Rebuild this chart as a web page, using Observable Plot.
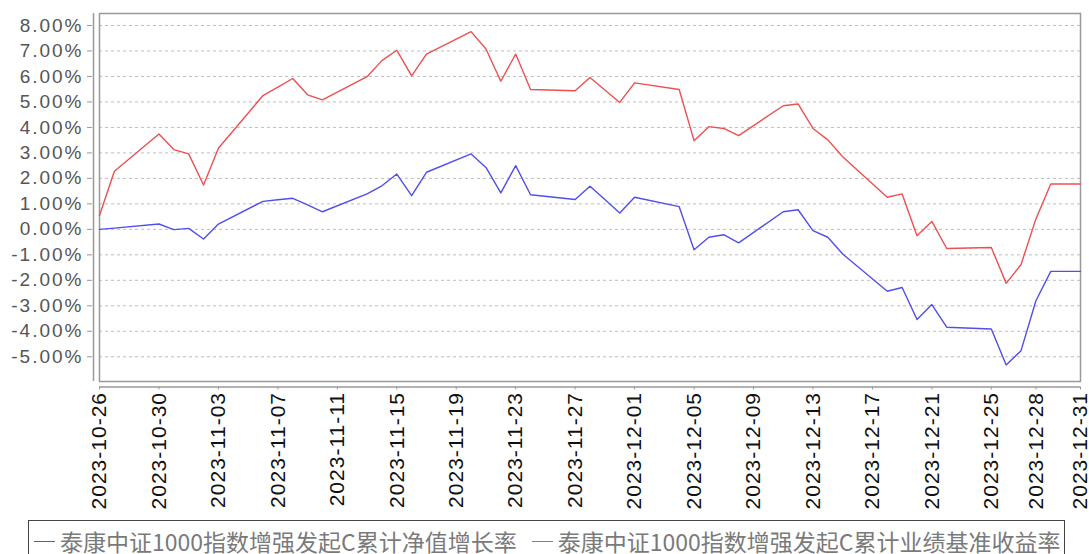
<!DOCTYPE html>
<html>
<head>
<meta charset="utf-8">
<script src="https://cdn.jsdelivr.net/npm/d3@7"></script>
<script src="https://cdn.jsdelivr.net/npm/@observablehq/plot@0.6"></script>
<style>
  html, body { margin: 0; padding: 0; background: #fff; }
  #wrap { position: relative; width: 1089px; height: 554px; overflow: hidden; }
  #chart svg { display: block; }
  g[aria-label="y-axis tick label"] text { letter-spacing: 2px; }
  g[aria-label="x-axis tick label"] text { letter-spacing: 1px; }
  #legend {
    position: absolute; left: 28px; top: 520px; width: 1037px; height: 40px;
    border: 1.5px solid #444; box-sizing: border-box;
    font-family: "Noto Sans CJK SC", sans-serif; font-size: 23px; color: #7a7a7a;
    display: flex; align-items: flex-start; padding-top: 8px; padding-left: 5px;
    white-space: nowrap;
  }
  .item { display: flex; align-items: center; line-height: 24px; margin-right: 15px; }
  .sw { display: inline-block; width: 21px; height: 0; border-top: 1.5px solid; margin-right: 5px; }
</style>
</head>
<body>
<div id="wrap">
  <div id="chart"></div>
  <div id="legend"></div>
</div>
<script>
const seriesNames = ["泰康中证1000指数增强发起C累计净值增长率", "泰康中证1000指数增强发起C累计业绩基准收益率"];
const seriesColors = ["#4f4fee", "#ee4f4f"];

const dates = ["2023-10-26","2023-10-27","2023-10-30","2023-10-31","2023-11-01","2023-11-02","2023-11-03",
  "2023-11-06","2023-11-07","2023-11-08","2023-11-09","2023-11-10","2023-11-13","2023-11-14","2023-11-15",
  "2023-11-16","2023-11-17","2023-11-20","2023-11-21","2023-11-22","2023-11-23","2023-11-24","2023-11-27",
  "2023-11-28","2023-11-29","2023-11-30","2023-12-01","2023-12-04","2023-12-05","2023-12-06","2023-12-07",
  "2023-12-08","2023-12-11","2023-12-12","2023-12-13","2023-12-14","2023-12-15","2023-12-18","2023-12-19",
  "2023-12-20","2023-12-21","2023-12-22","2023-12-25","2023-12-26","2023-12-27","2023-12-28","2023-12-29",
  "2023-12-31"];

const navGrowth = [0.00,0.05,0.21,-0.01,0.04,-0.38,0.21,
  1.10,1.16,1.22,0.96,0.69,1.39,1.71,2.17,
  1.32,2.24,2.96,2.43,1.43,2.50,1.36,1.17,
  1.69,1.17,0.64,1.26,0.89,-0.80,-0.31,-0.21,
  -0.53,0.69,0.77,-0.05,-0.31,-0.97,-2.43,-2.28,
  -3.54,-2.95,-3.84,-3.91,-5.32,-4.76,-2.80,-1.65,
  -1.65];

const benchmark = [0.54,2.28,3.74,3.13,2.96,1.74,3.18,
  5.25,5.58,5.92,5.28,5.08,5.99,6.62,7.03,
  6.02,6.88,7.76,7.08,5.81,6.88,5.49,5.44,
  5.96,5.47,4.98,5.75,5.49,3.48,4.03,3.96,
  3.68,4.85,4.92,3.96,3.51,2.85,1.26,1.39,
  -0.25,0.31,-0.75,-0.71,-2.12,-1.38,0.41,1.78,
  1.78];

const xTickLabels = ["2023-10-26","2023-10-30","2023-11-03","2023-11-07","2023-11-11","2023-11-15",
  "2023-11-19","2023-11-23","2023-11-27","2023-12-01","2023-12-05","2023-12-09","2023-12-13",
  "2023-12-17","2023-12-21","2023-12-25","2023-12-28","2023-12-31"];

const yTicks = [-5,-4,-3,-2,-1,0,1,2,3,4,5,6,7,8];

const parse = d3.utcParse("%Y-%m-%d");
const fmt = d3.utcFormat("%Y-%m-%d");
const xTicks = xTickLabels.map(parse);
const navData = dates.map((d, i) => ({date: parse(d), v: navGrowth[i]}));
const benchData = dates.map((d, i) => ({date: parse(d), v: benchmark[i]}));
const xStart = parse("2023-10-26"), xEnd = parse("2023-12-31");
const yDom = [-5.97, 8.47];

const chart = Plot.plot({
  width: 1089,
  height: 516,
  marginTop: 13,
  marginLeft: 99,
  marginRight: 9,
  marginBottom: 135,
  x: {type: "utc", domain: [xStart, xEnd]},
  y: {domain: yDom},
  style: {fontFamily: "'Liberation Sans', Arial, sans-serif", background: "#fff", overflow: "visible"},
  marks: [
    Plot.gridY(yTicks, {stroke: "#bdbdbd", strokeOpacity: 1, strokeDasharray: "3,3"}),
    Plot.frame({stroke: "#999", strokeWidth: 1.5}),
    Plot.ruleX([xStart], {dx: -6, stroke: "#999", strokeWidth: 1.5}),
    Plot.ruleY([yDom[0]], {dy: 5.5, stroke: "#999", strokeWidth: 1.5}),
    Plot.axisY(yTicks, {tickFormat: d => d.toFixed(2) + "%", dx: -7, tickSize: 5, tickPadding: 4,
      fontSize: 19, fill: "#555", stroke: "#999", label: null}),
    Plot.axisX(xTicks, {tickFormat: fmt, tickRotate: -90, dy: 5.5, tickSize: 3, tickPadding: 2,
      fontSize: 21, fill: "#111", stroke: "#999", label: null}),
    Plot.line(benchData, {x: "date", y: "v", stroke: seriesColors[1], strokeWidth: 1.4}),
    Plot.line(navData, {x: "date", y: "v", stroke: seriesColors[0], strokeWidth: 1.4})
  ]
});
document.getElementById("chart").appendChild(chart);

const legend = document.getElementById("legend");
seriesNames.forEach((name, i) => {
  const item = document.createElement("div");
  item.className = "item";
  const sw = document.createElement("span");
  sw.className = "sw";
  sw.style.borderColor = seriesColors[i];
  const t = document.createElement("span");
  t.textContent = name;
  item.appendChild(sw);
  item.appendChild(t);
  legend.appendChild(item);
});
</script>
</body>
</html>
